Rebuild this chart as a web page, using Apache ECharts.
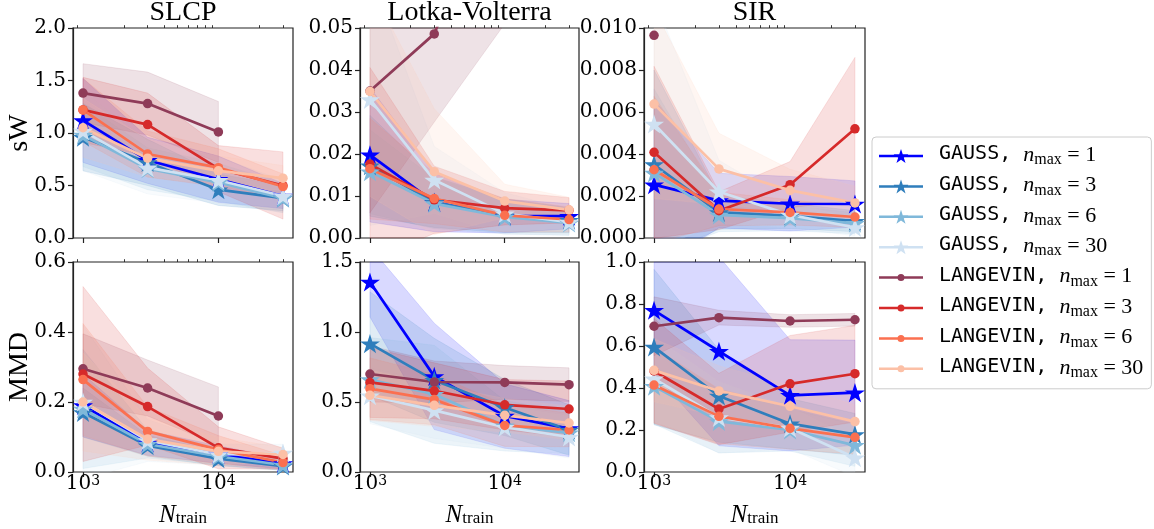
<!DOCTYPE html>
<html>
<head>
<meta charset="utf-8">
<script src="https://cdn.jsdelivr.net/npm/echarts@6/dist/echarts.min.js"></script>
<style>
html,body{margin:0;padding:0;background:#fff;}
#chart{width:1154px;height:529px;}
</style>
</head>
<body>
<div id="chart"></div>
<script>
// ---------------- data ----------------
const N_TRAIN = [1000, 3000, 10000, 30000];
const METHODS = ['GAUSS', 'GAUSS', 'GAUSS', 'GAUSS', 'LANGEVIN', 'LANGEVIN', 'LANGEVIN', 'LANGEVIN'];
const N_MAX = [1, 3, 6, 30, 1, 3, 6, 30];
const PANEL_TITLES = ['SLCP', 'Lotka-Volterra', 'SIR'];
const ROW_LABELS = ['sW', 'MMD'];
const Y_MAX = [2.0, 0.05, 0.010, 0.6, 1.5, 1.0];
const Y_STEP = [0.5, 0.01, 0.002, 0.2, 0.5, 0.2];
const Y_DECIMALS = [1, 2, 3, 1, 1, 1];
const X_MAJOR = [1000, 10000];
const X_MINOR = [900, 2000, 3000, 4000, 5000, 6000, 7000, 8000, 9000, 20000, 30000];

// rows: GAUSS 1,3,6,30 then LANGEVIN 1,3,6,30 ; columns follow N_TRAIN
const SLCP_SW_MEAN = [
  [1.12, 0.74, 0.56, 0.40],
  [0.96, 0.72, 0.46, 0.38],
  [0.98, 0.66, 0.53, 0.38],
  [1.02, 0.67, 0.55, 0.40],
  [1.38, 1.28, 1.01, null],
  [1.22, 1.08, 0.66, 0.50],
  [1.22, 0.80, 0.67, 0.49],
  [1.05, 0.76, 0.64, 0.57]
];
const SLCP_SW_SD = [
  [0.40, 0.22, 0.22, 0.12],
  [0.32, 0.22, 0.15, 0.12],
  [0.30, 0.20, 0.18, 0.14],
  [0.38, 0.25, 0.22, 0.15],
  [0.28, 0.30, 0.29, null],
  [0.31, 0.30, 0.22, 0.32],
  [0.30, 0.22, 0.18, 0.12],
  [0.28, 0.18, 0.14, 0.12]
];
const LV_SW_MEAN = [
  [0.0198, 0.0085, 0.0052, 0.0052],
  [0.0172, 0.0085, 0.0053, 0.0042],
  [0.0158, 0.0082, 0.0050, 0.0036],
  [0.0330, 0.0138, 0.0058, 0.0038],
  [0.0350, 0.0486, 0.0900, null],
  [0.0176, 0.0091, 0.0071, 0.0066],
  [0.0165, 0.0094, 0.0054, 0.0044],
  [0.0349, 0.0158, 0.0088, 0.0067]
];
const LV_SW_SD = [
  [0.016, 0.007, 0.004, 0.003],
  [0.012, 0.006, 0.004, 0.003],
  [0.010, 0.006, 0.004, 0.003],
  [0.030, 0.008, 0.005, 0.003],
  [0.029, 0.021, 0.039, null],
  [0.023, 0.008, 0.004, 0.003],
  [0.012, 0.006, 0.004, 0.003],
  [0.025, 0.015, 0.004, 0.003]
];
const SIR_SW_MEAN = [
  [0.00254, 0.00178, 0.00163, 0.00162],
  [0.00350, 0.00122, 0.00105, 0.00080],
  [0.00310, 0.00110, 0.00095, 0.00070],
  [0.00543, 0.00220, 0.00110, 0.00050],
  [0.00965, null, null, null],
  [0.00408, 0.00130, 0.00254, 0.00520],
  [0.00325, 0.00138, 0.00122, 0.00100],
  [0.00638, 0.00329, 0.00227, 0.00167]
];
const SIR_SW_SD = [
  [0.0040, 0.0013, 0.0013, 0.0011],
  [0.0045, 0.0008, 0.0006, 0.0005],
  [0.0040, 0.0008, 0.0006, 0.0005],
  [0.0060, 0.0015, 0.0006, 0.0004],
  [0.0030, null, null, null],
  [0.0041, 0.0009, 0.0011, 0.0034],
  [0.0035, 0.0008, 0.0006, 0.0005],
  [0.0045, 0.0017, 0.0010, 0.0008]
];
const SLCP_MMD_MEAN = [
  [0.190, 0.083, 0.050, 0.024],
  [0.170, 0.075, 0.038, 0.017],
  [0.180, 0.080, 0.045, 0.020],
  [0.200, 0.090, 0.050, 0.054],
  [0.295, 0.240, 0.160, null],
  [0.280, 0.187, 0.069, 0.038],
  [0.264, 0.116, 0.064, 0.027],
  [0.200, 0.094, 0.059, 0.050]
];
const SLCP_MMD_SD = [
  [0.09, 0.035, 0.025, 0.015],
  [0.07, 0.030, 0.020, 0.012],
  [0.17, 0.040, 0.025, 0.015],
  [0.22, 0.060, 0.030, 0.025],
  [0.10, 0.080, 0.083, null],
  [0.25, 0.110, 0.060, 0.030],
  [0.16, 0.070, 0.040, 0.020],
  [0.14, 0.060, 0.040, 0.020]
];
const LV_MMD_MEAN = [
  [1.357, 0.683, 0.400, 0.310],
  [0.917, 0.655, 0.460, 0.300],
  [0.660, 0.555, 0.330, 0.280],
  [0.545, 0.440, 0.320, 0.250],
  [0.700, 0.643, 0.640, 0.624],
  [0.640, 0.580, 0.480, 0.450],
  [0.595, 0.517, 0.333, 0.300],
  [0.548, 0.476, 0.405, 0.350]
];
const LV_MMD_SD = [
  [0.25, 0.38, 0.23, 0.20],
  [0.37, 0.30, 0.20, 0.18],
  [0.30, 0.35, 0.18, 0.15],
  [0.20, 0.20, 0.15, 0.15],
  [0.20, 0.15, 0.12, 0.12],
  [0.25, 0.20, 0.18, 0.20],
  [0.22, 0.18, 0.15, 0.12],
  [0.18, 0.15, 0.12, 0.12]
];
const SIR_MMD_MEAN = [
  [0.770, 0.575, 0.365, 0.378],
  [0.595, 0.362, 0.230, 0.179],
  [0.408, 0.241, 0.200, 0.127],
  [0.444, 0.260, 0.210, 0.068],
  [0.694, 0.735, 0.719, 0.725],
  [0.481, 0.300, 0.420, 0.468],
  [0.414, 0.265, 0.208, 0.165],
  [0.484, 0.386, 0.313, 0.240]
];
const SIR_MMD_SD = [
  [0.30, 0.45, 0.265, 0.25],
  [0.37, 0.22, 0.12, 0.10],
  [0.18, 0.15, 0.10, 0.10],
  [0.20, 0.17, 0.10, 0.09],
  [0.14, 0.035, 0.03, 0.03],
  [0.25, 0.17, 0.23, 0.23],
  [0.18, 0.13, 0.10, 0.08],
  [0.15, 0.12, 0.10, 0.08]
];

const PANEL_DATA = [
  [SLCP_SW_MEAN, SLCP_SW_SD], [LV_SW_MEAN, LV_SW_SD], [SIR_SW_MEAN, SIR_SW_SD],
  [SLCP_MMD_MEAN, SLCP_MMD_SD], [LV_MMD_MEAN, LV_MMD_SD], [SIR_MMD_MEAN, SIR_MMD_SD]
];

// ---------------- styles / layout ----------------
const COLORS = ['#0000ff', '#2f7ebc', '#7fb8da', '#cfe1f2', '#8f3b58', '#d62a2a', '#fb7050', '#fcc0a6'];
const GRID_LEFT = [73, 360, 644];
const GRID_WIDTH = [220, 219, 221];
const GRID_TOP = [28, 262];
const GRID_HEIGHT = 210;
const X_MIN = 843.6, X_MAX = 35565;
const SPINE = '#222';
const BAND_ALPHA = 0.15;
const STAR = 'path://M100 0 L122.45 69.1 L195.1 69.1 L136.3 111.8 L158.8 180.9 L100 138.2 L41.2 180.9 L63.7 111.8 L4.9 69.1 L77.55 69.1 Z';
const LEG_STAR = 'path://M0 5.75 L44 5.75 L44 8.25 L0 8.25 Z M22 0 L23.738 5.348 L29.361 5.348 L24.812 8.654 L26.55 14 L22 10.697 L17.45 14 L19.188 8.654 L14.639 5.348 L20.262 5.348 Z';
const LEG_DOT = 'path://M0 5.75 L44 5.75 L44 8.25 L0 8.25 Z M18.5 7 A3.5 3.5 0 1 1 25.5 7 A3.5 3.5 0 1 1 18.5 7 Z';

const LABELS = METHODS.map((m, k) => m + ', n_max=' + N_MAX[k]);

// polygon clipping (pixel space) against the vertical limits of the plot area
function clipHalf(pts, inside, cut) {
  const out = [];
  for (let a = 0; a < pts.length; a++) {
    const P = pts[a], Q = pts[(a + 1) % pts.length];
    const pin = inside(P), qin = inside(Q);
    if (pin) out.push(P);
    if (pin !== qin) out.push(cut(P, Q));
  }
  return out;
}
function clipY(pts, y0, y1) {
  const cutAt = yc => (P, Q) => {
    const t = (yc - P[1]) / (Q[1] - P[1]);
    return [P[0] + t * (Q[0] - P[0]), yc];
  };
  let r = clipHalf(pts, p => p[1] >= y0, cutAt(y0));
  if (r.length) r = clipHalf(r, p => p[1] <= y1, cutAt(y1));
  return r;
}

const grids = [], xAxes = [], yAxes = [], series = [];

PANEL_DATA.forEach(([mean, sd], i) => {
  const row = Math.floor(i / 3), col = i % 3;
  grids.push({
    left: GRID_LEFT[col], top: GRID_TOP[row], width: GRID_WIDTH[col], height: GRID_HEIGHT,
    show: true, borderColor: SPINE, borderWidth: 1.2, backgroundColor: 'transparent'
  });
  xAxes.push({
    gridIndex: i, type: 'log', logBase: 10, min: X_MIN, max: X_MAX,
    axisLine: { show: false },
    splitLine: { show: false },
    axisTick: { show: true, length: 5, customValues: X_MAJOR, lineStyle: { color: SPINE, width: 1.2 } },
    axisLabel: row === 1 ? {
      show: true, customValues: X_MAJOR, margin: 2,
      formatter: v => '{b|10}{sup|' + Math.round(Math.log10(v)) + '}',
      rich: {
        b: { fontFamily: 'DejaVu Serif', fontSize: 20, lineHeight: 24, verticalAlign: 'top', color: '#000' },
        sup: { fontFamily: 'DejaVu Serif', fontSize: 14, lineHeight: 11, verticalAlign: 'top', color: '#000' }
      }
    } : { show: false },
    name: row === 1 ? '{n|N}{t|train}' : '',
    nameLocation: 'middle', nameGap: 31,
    nameTextStyle: {
      rich: {
        n: { fontFamily: 'Liberation Serif', fontStyle: 'italic', fontSize: 25, lineHeight: 24, verticalAlign: 'top', color: '#000' },
        t: { fontFamily: 'Liberation Serif', fontSize: 17, lineHeight: 14, verticalAlign: 'bottom', color: '#000' }
      }
    }
  });
  xAxes.push({
    gridIndex: i, type: 'log', logBase: 10, min: X_MIN, max: X_MAX,
    axisLine: { show: false }, splitLine: { show: false }, axisLabel: { show: false },
    axisTick: { show: true, length: 2.8, customValues: X_MINOR, lineStyle: { color: SPINE, width: 0.9 } }
  });
  yAxes.push({
    gridIndex: i, type: 'value', min: 0, max: Y_MAX[i], interval: Y_STEP[i],
    axisLine: { show: true, lineStyle: { color: SPINE, width: 1.2 } },
    axisTick: { show: true, length: 5, lineStyle: { color: SPINE, width: 1.2 } },
    splitLine: { show: false },
    axisLabel: {
      fontFamily: 'DejaVu Serif', fontSize: 20, color: '#000', margin: 7,
      formatter: v => v.toFixed(Y_DECIMALS[i])
    }
  });

  // shaded bands (mean +- sd), one polygon per series
  for (let k = 0; k < 8; k++) {
    const m = mean[k], s = sd[k];
    const rows = [];
    N_TRAIN.forEach((x, j) => {
      if (m[j] != null && s[j] != null) rows.push([x, m[j] - s[j], m[j] + s[j]]);
    });
    const color = COLORS[k];
    series.push({
      type: 'custom', name: 'band', xAxisIndex: 2 * i, yAxisIndex: i,
      silent: true, z: 1, data: rows, encode: { x: 0, y: [1, 2] },
      renderItem: (params, api) => {
        if (params.dataIndex !== 0 || rows.length < 2) return;
        const upper = rows.map(r => api.coord([r[0], r[2]]));
        const lower = rows.map(r => api.coord([r[0], r[1]])).reverse();
        const cs = params.coordSys;
        const pts = clipY(upper.concat(lower), cs.y, cs.y + cs.height);
        if (pts.length < 3) return;
        return {
          type: 'polygon', shape: { points: pts },
          style: { fill: color, stroke: color, lineWidth: 0.8, opacity: BAND_ALPHA }
        };
      }
    });
  }
  for (let k = 0; k < 8; k++) {
    const gauss = k < 4;
    series.push({
      type: 'line', name: LABELS[k], xAxisIndex: 2 * i, yAxisIndex: i,
      data: N_TRAIN.map((x, j) => [x, mean[k][j] == null ? '-' : mean[k][j]]),
      symbol: gauss ? STAR : 'circle', symbolSize: gauss ? 20 : 9.5, symbolKeepAspect: true,
      showSymbol: true, z: 3,
      lineStyle: { color: COLORS[k], width: 2.7 },
      itemStyle: { color: COLORS[k], borderWidth: 0 },
      emphasis: { disabled: true }
    });
  }
});

const graphics = [];
PANEL_TITLES.forEach((t, c) => {
  graphics.push({
    type: 'text', x: GRID_LEFT[c] + GRID_WIDTH[c] / 2, y: 13,
    style: { text: t, font: '28px "Liberation Serif"', fill: '#000',
      textAlign: 'center', textVerticalAlign: 'middle', align: 'center', verticalAlign: 'middle' }
  });
});
ROW_LABELS.forEach((t, r) => {
  graphics.push({
    type: 'text', x: 20, y: GRID_TOP[r] + GRID_HEIGHT / 2, rotation: Math.PI / 2,
    style: { text: t, font: '28px "Liberation Serif"', fill: '#000',
      textAlign: 'center', textVerticalAlign: 'middle', align: 'center', verticalAlign: 'middle' }
  });
});

const option = {
  animation: false,
  backgroundColor: '#fff',
  grid: grids,
  xAxis: xAxes,
  yAxis: yAxes,
  series: series,
  graphic: graphics,
  legend: {
    orient: 'vertical', left: 872, top: 137,
    padding: [7, 8, 8, 7],
    itemWidth: 44, itemHeight: 14, itemGap: 6.4,
    backgroundColor: '#fff', borderColor: '#cccccc', borderWidth: 1, borderRadius: 4,
    selectedMode: false,
    itemStyle: { borderWidth: 0 },
    data: LABELS.map((name, k) => ({ name, icon: k < 4 ? LEG_STAR : LEG_DOT })),
    formatter: name => {
      const k = LABELS.indexOf(name);
      return '{m|' + METHODS[k] + ', }{n|n}{s|max}{e| = ' + N_MAX[k] + '}';
    },
    textStyle: {
      rich: {
        m: { fontFamily: 'DejaVu Sans Mono', fontSize: 20, lineHeight: 24, verticalAlign: 'top', color: '#000', padding: [0, 0, 0, 11] },
        n: { fontFamily: 'Liberation Serif', fontStyle: 'italic', fontSize: 22, lineHeight: 24, verticalAlign: 'top', color: '#000' },
        s: { fontFamily: 'Liberation Serif', fontSize: 16, lineHeight: 16, verticalAlign: 'bottom', color: '#000' },
        e: { fontFamily: 'Liberation Serif', fontSize: 22, lineHeight: 24, verticalAlign: 'top', color: '#000' }
      }
    }
  }
};

const chart = echarts.init(document.getElementById('chart'), null, { renderer: 'canvas' });
chart.setOption(option);
</script>
</body>
</html>
